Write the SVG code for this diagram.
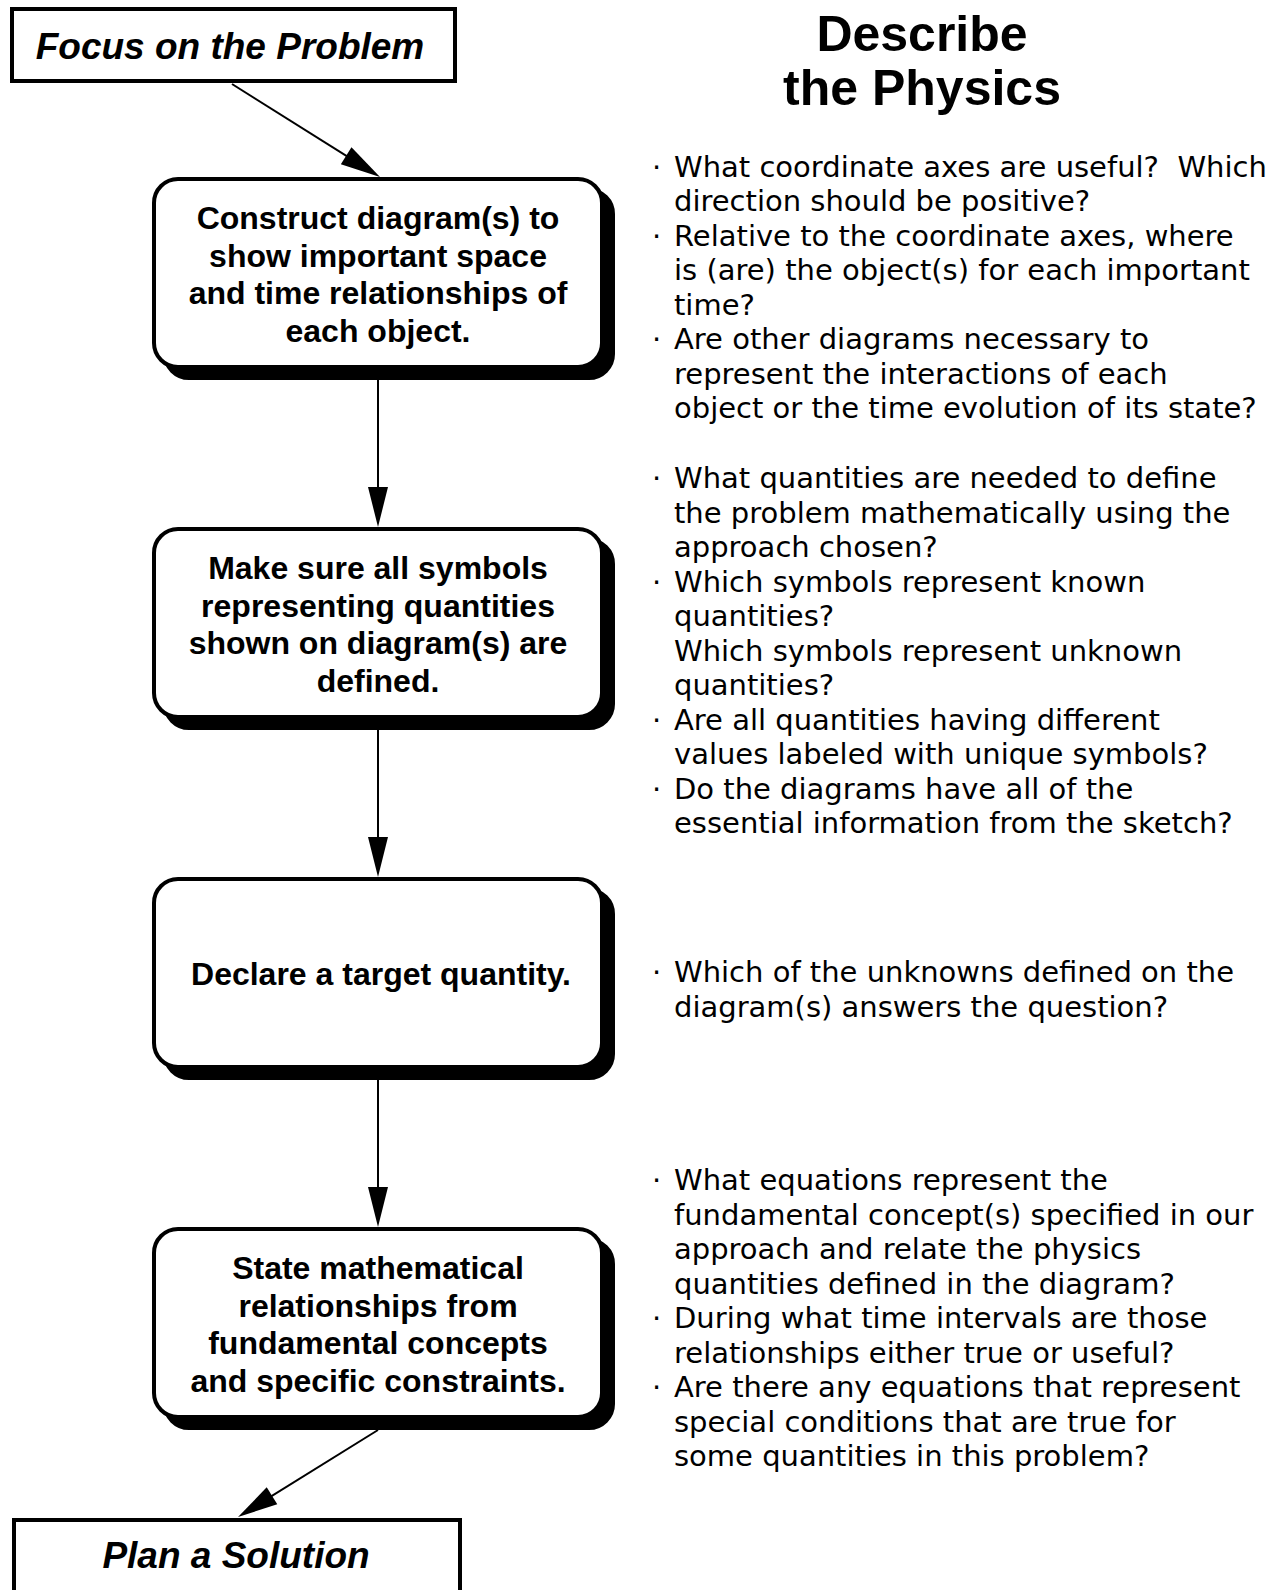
<svg xmlns="http://www.w3.org/2000/svg" width="1270" height="1590" viewBox="0 0 1270 1590">
  <style>
    .sq { fill: #fff; stroke: #000; stroke-width: 4; }
    .rb { fill: #fff; stroke: #000; stroke-width: 4; }
    .sh { fill: #000; stroke: #000; stroke-width: 4; }
    .bi { font-family: "Liberation Sans", Arial, sans-serif; font-weight: bold; font-style: italic; font-size: 37px; fill: #000; text-anchor: middle; }
    .bx { font-family: "Liberation Sans", Arial, sans-serif; font-weight: bold; font-size: 32px; fill: #000; text-anchor: middle; }
    .ti { font-family: "Liberation Sans", Arial, sans-serif; font-weight: bold; font-size: 50px; fill: #000; text-anchor: middle; }
    .q { font-family: "DejaVu Sans", Verdana, sans-serif; font-size: 29px; fill: #000; }
    .cn { stroke: #000; stroke-width: 2; fill: none; marker-end: url(#ah); }
  </style>
  <defs>
    <marker id="ah" markerUnits="userSpaceOnUse" markerWidth="40" markerHeight="20" refX="20" refY="10" orient="auto" overflow="visible">
      <path d="M0,0 L40,10 L0,20 Z" fill="#000"/>
    </marker>
  </defs>
  <rect width="1270" height="1590" fill="#fff"/>

  <g id="connectors">
    <line class="cn" x1="232" y1="84" x2="363.1" y2="166.4"/>
    <line class="cn" x1="378" y1="369" x2="378" y2="507"/>
    <line class="cn" x1="378" y1="719" x2="378" y2="857"/>
    <line class="cn" x1="378" y1="1069" x2="378" y2="1207"/>
    <line class="cn" x1="378" y1="1430" x2="255" y2="1506.4"/>
  </g>

  <g id="focus">
    <rect class="sq" x="12" y="9" width="443" height="72"/>
    <text class="bi" x="230" y="59">Focus on the Problem</text>
  </g>

  <g id="step1">
    <rect class="sh" x="165" y="190" width="448" height="188" rx="24"/>
    <rect class="rb" x="154" y="179" width="448" height="188" rx="24"/>
    <text class="bx" x="378" y="229">Construct diagram(s) to</text>
    <text class="bx" x="378" y="267">show important space</text>
    <text class="bx" x="378" y="304">and time relationships of</text>
    <text class="bx" x="378" y="342">each object.</text>
  </g>

  <g id="step2">
    <rect class="sh" x="165" y="540" width="448" height="188" rx="24"/>
    <rect class="rb" x="154" y="529" width="448" height="188" rx="24"/>
    <text class="bx" x="378" y="579">Make sure all symbols</text>
    <text class="bx" x="378" y="617">representing quantities</text>
    <text class="bx" x="378" y="654">shown on diagram(s) are</text>
    <text class="bx" x="378" y="692">defined.</text>
  </g>

  <g id="step3">
    <rect class="sh" x="165" y="890" width="448" height="188" rx="24"/>
    <rect class="rb" x="154" y="879" width="448" height="188" rx="24"/>
    <text class="bx" x="381" y="985">Declare a target quantity.</text>
  </g>

  <g id="step4">
    <rect class="sh" x="165" y="1240" width="448" height="188" rx="24"/>
    <rect class="rb" x="154" y="1229" width="448" height="188" rx="24"/>
    <text class="bx" x="378" y="1279">State mathematical</text>
    <text class="bx" x="378" y="1317">relationships from</text>
    <text class="bx" x="378" y="1354">fundamental concepts</text>
    <text class="bx" x="378" y="1392">and specific constraints.</text>
  </g>

  <g id="plan">
    <rect class="sq" x="14" y="1520" width="446" height="100"/>
    <text class="bi" x="236" y="1568">Plan a Solution</text>
  </g>

  <g id="title">
    <text class="ti" x="922" y="51">Describe</text>
    <text class="ti" x="922" y="105">the Physics</text>
  </g>

  <g id="notes1" class="q">
    <text x="652" y="176.5">·</text>
    <text x="674" y="176.5">What coordinate axes are useful?&#160; Which</text>
    <text x="674" y="211">direction should be positive?</text>
    <text x="652" y="245.5">·</text>
    <text x="674" y="245.5">Relative to the coordinate axes, where</text>
    <text x="674" y="280">is (are) the object(s) for each important</text>
    <text x="674" y="314.5">time?</text>
    <text x="652" y="349">·</text>
    <text x="674" y="349">Are other diagrams necessary to</text>
    <text x="674" y="383.5">represent the interactions of each</text>
    <text x="674" y="418">object or the time evolution of its state?</text>
  </g>

  <g id="notes2" class="q">
    <text x="652" y="488">·</text>
    <text x="674" y="488">What quantities are needed to define</text>
    <text x="674" y="522.5">the problem mathematically using the</text>
    <text x="674" y="557">approach chosen?</text>
    <text x="652" y="591.5">·</text>
    <text x="674" y="591.5">Which symbols represent known</text>
    <text x="674" y="626">quantities?</text>
    <text x="674" y="660.5">Which symbols represent unknown</text>
    <text x="674" y="695">quantities?</text>
    <text x="652" y="729.5">·</text>
    <text x="674" y="729.5">Are all quantities having different</text>
    <text x="674" y="764">values labeled with unique symbols?</text>
    <text x="652" y="798.5">·</text>
    <text x="674" y="798.5">Do the diagrams have all of the</text>
    <text x="674" y="833">essential information from the sketch?</text>
  </g>

  <g id="notes3" class="q">
    <text x="652" y="982">·</text>
    <text x="674" y="982">Which of the unknowns defined on the</text>
    <text x="674" y="1016.5">diagram(s) answers the question?</text>
  </g>

  <g id="notes4" class="q">
    <text x="652" y="1190">·</text>
    <text x="674" y="1190">What equations represent the</text>
    <text x="674" y="1224.5">fundamental concept(s) specified in our</text>
    <text x="674" y="1259">approach and relate the physics</text>
    <text x="674" y="1293.5">quantities defined in the diagram?</text>
    <text x="652" y="1328">·</text>
    <text x="674" y="1328">During what time intervals are those</text>
    <text x="674" y="1362.5">relationships either true or useful?</text>
    <text x="652" y="1397">·</text>
    <text x="674" y="1397">Are there any equations that represent</text>
    <text x="674" y="1431.5">special conditions that are true for</text>
    <text x="674" y="1466">some quantities in this problem?</text>
  </g>
</svg>
